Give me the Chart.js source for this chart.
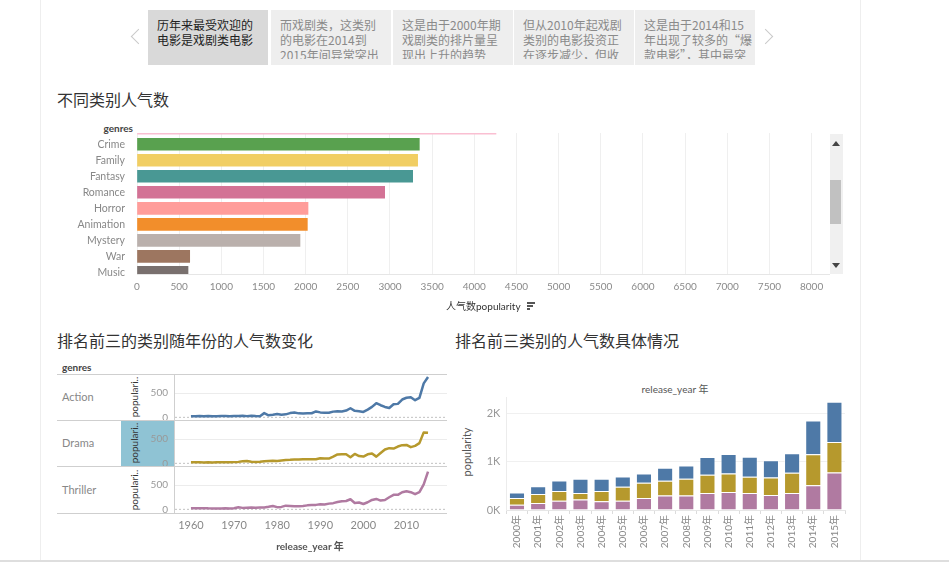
<!DOCTYPE html>
<html><head><meta charset="utf-8">
<script src="https://cdn.jsdelivr.net/npm/chart.js@4.4.1/dist/chart.umd.min.js"></script>
<style>
html,body{margin:0;padding:0;background:#fff;width:949px;height:563px;overflow:hidden;font-family:Lato,"Noto Sans CJK SC",sans-serif;}
.a{position:absolute;}
.sp{position:absolute;top:10px;height:55px;width:120px;background:#eeeeee;box-sizing:border-box;padding:7px 0 0 9px;font-family:"Noto Sans CJK SC",sans-serif;font-size:12px;line-height:15px;color:#8a8a8a;}
.sp .in{height:42px;overflow:hidden;white-space:nowrap;}
.sp.act{background:#d9d9d9;color:#222;}
.ttl{position:absolute;font-family:"Noto Sans CJK SC",sans-serif;font-size:16px;line-height:22px;color:#333;white-space:nowrap;}
.lbl{position:absolute;font-size:11px;color:#888;white-space:nowrap;line-height:14px;}
.hdr{position:absolute;font-size:10px;font-weight:bold;color:#444;white-space:nowrap;line-height:12px;}
.rot{position:absolute;transform:rotate(-90deg);transform-origin:center center;white-space:nowrap;text-align:center;}
.hl{position:absolute;height:1px;background:#cfcfcf;}
canvas{position:absolute;}
</style></head><body>

<!-- page frame -->
<div class="a" style="left:40px;top:0;width:1px;height:561px;background:#eeeeee"></div>
<div class="a" style="left:860px;top:0;width:1px;height:561px;background:#eeeeee"></div>
<div class="a" style="left:0;top:560px;width:949px;height:2px;background:#dedede"></div>

<!-- story points -->
<div class="a" style="left:133px;top:31px;width:10px;height:10px;border-left:1.5px solid #c9c9c9;border-bottom:1.5px solid #c9c9c9;transform:rotate(45deg)"></div>
<div class="a" style="left:760px;top:31px;width:10px;height:10px;border-right:1.5px solid #c9c9c9;border-top:1.5px solid #c9c9c9;transform:rotate(45deg)"></div>
<div class="sp act" style="left:148px"><div class="in">历年来最受欢迎的<br>电影是戏剧类电影</div></div>
<div class="sp" style="left:271px"><div class="in">而戏剧类，这类别<br>的电影在2014到<br>2015年间异常突出</div></div>
<div class="sp" style="left:393px"><div class="in">这是由于2000年期<br>戏剧类的排片量呈<br>现出上升的趋势</div></div>
<div class="sp" style="left:514px"><div class="in">但从2010年起戏剧<br>类别的电影投资正<br>在逐步减少，但收</div></div>
<div class="sp" style="left:635px"><div class="in">这是由于2014和15<br>年出现了较多的“爆<br>款电影”，其中最突</div></div>

<!-- section titles -->
<div class="ttl" style="left:57px;top:88px">不同类别人气数</div>
<div class="ttl" style="left:57px;top:329px">排名前三的类别随年份的人气数变化</div>
<div class="ttl" style="left:455px;top:329px">排名前三类别的人气数具体情况</div>

<!-- top bar chart -->
<div class="hdr" style="left:90px;width:43px;text-align:right;top:122px">genres</div>
<canvas id="c1" width="773" height="187" style="left:57px;top:133px"></canvas>
<div class="a" style="left:830px;top:134px;width:13px;height:140px;background:#f0f0f0"></div>
<div class="a" style="left:830px;top:180px;width:11px;height:44px;background:#c1c1c1"></div>
<div class="a" style="left:832px;top:141px;width:0;height:0;border-left:4px solid transparent;border-right:4px solid transparent;border-bottom:5px solid #444"></div>
<div class="a" style="left:832px;top:263px;width:0;height:0;border-left:4px solid transparent;border-right:4px solid transparent;border-top:5px solid #444"></div>
<div class="a" style="left:446px;top:299px;font-size:10px;color:#333;white-space:nowrap;line-height:14px">人气数popularity<span style="display:inline-block;position:relative;width:9px;height:9px;margin-left:6px;vertical-align:-1px"><span class="a" style="left:0;top:0;width:8px;height:1.5px;background:#555"></span><span class="a" style="left:0;top:3px;width:6px;height:1.5px;background:#555"></span><span class="a" style="left:0;top:6px;width:3px;height:1.5px;background:#555"></span></span></div>

<!-- small multiples -->
<div class="hdr" style="left:62px;top:361px">genres</div>
<div class="a" style="left:121px;top:420px;width:54px;height:47px;background:#8fc3d4"></div>
<div class="hl" style="left:57px;top:374px;width:390px"></div>
<div class="hl" style="left:57px;top:420px;width:390px"></div>
<div class="hl" style="left:57px;top:466px;width:390px"></div>
<div class="hl" style="left:57px;top:513px;width:390px"></div>
<div class="a" style="left:174px;top:374px;width:1px;height:140px;background:#cfcfcf"></div>
<div class="lbl" style="left:62px;top:390px">Action</div>
<div class="lbl" style="left:62px;top:436px">Drama</div>
<div class="lbl" style="left:62px;top:483px">Thriller</div>
<div class="rot" style="left:110px;top:391px;width:48px;height:12px;font-size:10px;line-height:12px;color:#333">populari..</div>
<div class="rot" style="left:110px;top:437px;width:48px;height:12px;font-size:10px;line-height:12px;color:#333">populari..</div>
<div class="rot" style="left:110px;top:484px;width:48px;height:12px;font-size:10px;line-height:12px;color:#333">populari..</div>
<canvas id="r1" width="307" height="46" style="left:140px;top:374px"></canvas>
<canvas id="r2" width="307" height="46" style="left:140px;top:420px"></canvas>
<canvas id="r3" width="307" height="87" style="left:140px;top:466px"></canvas>
<div class="a" style="left:250px;width:120px;text-align:center;top:540px;font-size:10px;font-weight:bold;color:#555;line-height:12px">release_year 年</div>

<!-- stacked bars -->
<div class="a" style="left:615px;width:120px;text-align:center;top:383px;font-size:10px;color:#555;line-height:12px">release_year 年</div>
<div class="rot" style="left:437px;top:446px;width:60px;height:12px;font-size:11px;line-height:12px;color:#555">popularity</div>
<canvas id="c3" width="400" height="170" style="left:455px;top:380px"></canvas>

<script>
// ---------- data ----------
const genres = ['Adventure','Crime','Family','Fantasy','Romance','Horror','Animation','Mystery','War','Music'];
const genrePopularity = [4257, 3348, 3328, 3269, 2937, 2028, 2020, 1933, 625, 605];
const genreColors = ['#fabfd2','#59a14f','#f1ce63','#499894','#d37295','#ff9d9a','#f28e2b','#bab0ac','#9d7660','#79706e'];
const popularityTicks = [0,500,1000,1500,2000,2500,3000,3500,4000,4500,5000,5500,6000,6500,7000,7500,8000];

const lineYears = [1960,1961,1962,1963,1964,1965,1966,1967,1968,1969,1970,1971,1972,1973,1974,1975,1976,1977,1978,1979,1980,1981,1982,1983,1984,1985,1986,1987,1988,1989,1990,1991,1992,1993,1994,1995,1996,1997,1998,1999,2000,2001,2002,2003,2004,2005,2006,2007,2008,2009,2010,2011,2012,2013,2014,2015];
const actionLine = [22,25,27,24,26,25,23,26,28,24,30,27,32,25,34,27,22,87,42,52,68,55,62,88,100,82,80,82,84,122,102,96,94,118,128,122,140,188,134,126,111,160,215,292,250,215,194,271,278,368,404,416,354,403,701,833];
const dramaLine = [21,20,23,19,22,18,21,24,22,20,25,30,42,49,32,28,35,45,49,52,50,60,69,72,78,80,83,85,82,84,104,100,98,139,185,190,186,125,194,150,139,187,202,139,215,285,313,305,347,375,381,334,361,417,639,632];
const thrillerLine = [21,24,22,25,20,18,19,17,20,18,22,42,30,35,38,32,36,40,52,69,45,50,76,70,64,66,68,82,88,92,104,98,118,128,150,167,172,208,132,140,111,146,194,215,181,194,250,299,299,354,375,354,313,354,514,778];
const yearTicks = [1960,1970,1980,1990,2000,2010];
const rowTicks = [0,500];

const barYears = ['2000年','2001年','2002年','2003年','2004年','2005年','2006年','2007年','2008年','2009年','2010年','2011年','2012年','2013年','2014年','2015年'];
const thrillerBar = [111,146,194,215,181,194,250,299,299,354,375,354,313,354,514,778];
const dramaBar = [139,187,202,139,215,285,313,305,347,375,381,334,361,417,639,632];
const actionBar = [111,160,215,292,250,215,194,271,278,368,404,416,354,403,701,833];
const stackTicks = [0,1000,2000];

// ---------- charts ----------
const base = {animation:false, responsive:false, maintainAspectRatio:false, events:[],
  plugins:{legend:{display:false}, tooltip:{enabled:false}}};
Chart.defaults.font.family = 'Lato, "Noto Sans CJK SC", sans-serif';

new Chart(document.getElementById('c1'), {
  type:'bar',
  data:{datasets:[{data: genres.map((g,i)=>({x:genrePopularity[i], y:i})), backgroundColor: genreColors, barThickness:12, clip:0, borderWidth:0}]},
  options:Object.assign({}, base, {
    indexAxis:'y', layout:{padding:0},
    scales:{
      x:{type:'linear', min:0, max:8218, bounds:'data',
        afterBuildTicks:s=>{s.ticks = popularityTicks.map(v=>({value:v}));},
        ticks:{color:'#8a8a8a', font:{size:10}, padding:7, maxRotation:0, autoSkip:false, callback:v=>String(v)},
        grid:{color:'#efefef', drawTicks:false}, border:{display:true, color:'#e6e6e6'},
        afterFit:s=>{s.height=46; s.paddingLeft=0; s.paddingRight=0;}},
      y:{type:'linear', reverse:true, min:0.3, max:9.1, bounds:'data', offset:false,
        afterBuildTicks:s=>{s.ticks = genres.map((g,i)=>({value:i})).filter(t=>t.value>=1);},
        ticks:{color:'#888', font:{size:10.5}, padding:4, autoSkip:false, callback:v=>genres[v]},
        grid:{display:false, offset:false}, border:{display:false},
        afterFit:s=>{s.width=80; s.paddingTop=0; s.paddingBottom=0;}}
    }})
});

const xMin = 1956.3, xMax = 2019.4;
function rowChart(id, values, color, showX){
  new Chart(document.getElementById(id), {
    type:'line',
    data:{datasets:[
      {data: lineYears.map((y,i)=>({x:y, y:values[i]})), borderColor:color, borderWidth:2.5, pointRadius:0, tension:0, borderJoinStyle:'round'},
      {data:[{x:xMin,y:0},{x:xMax,y:0}], borderColor:'#c2c2c2', borderWidth:1, borderDash:[2,2], pointRadius:0}
    ]},
    options:Object.assign({}, base, {
      layout:{padding:0},
      scales:{
        x:{type:'linear', min:xMin, max:xMax, bounds:'data', display:showX,
          afterBuildTicks:s=>{s.ticks = yearTicks.map(v=>({value:v}));},
          ticks:{color:'#888', font:{size:11}, padding:7, maxRotation:0, callback:v=>String(v)},
          grid:{display:false, drawTicks:false}, border:{display:false},
          afterFit:s=>{ if(showX){ s.height=41; } s.paddingLeft=0; s.paddingRight=0;}},
        y:{type:'linear', min:-55, max:895, bounds:'data',
          afterBuildTicks:s=>{s.ticks = rowTicks.map(v=>({value:v}));},
          ticks:{color:'#999', font:{size:10}, padding:7, callback:v=>String(v)},
          grid:{color:c=> (c.tick && c.tick.value===0) ? 'rgba(0,0,0,0)' : '#ececec', drawTicks:false}, border:{display:false},
          afterFit:s=>{s.width=35; s.paddingTop=0; s.paddingBottom=0;}}
      }})
  });
}
rowChart('r1', actionLine, '#4e79a7', false);
rowChart('r2', dramaLine, '#b6992d', false);
rowChart('r3', thrillerLine, '#b07aa1', true);

new Chart(document.getElementById('c3'), {
  type:'bar',
  data:{labels: barYears, datasets:[
    {label:'Thriller', data:thrillerBar, backgroundColor:'#b07aa1'},
    {label:'Drama', data:dramaBar, backgroundColor:'#b6992d'},
    {label:'Action', data:actionBar, backgroundColor:'#4e79a7'}
  ]},
  options:Object.assign({}, base, {
    datasets:{bar:{categoryPercentage:1, barPercentage:0.76, borderWidth:1, borderColor:'rgba(255,255,255,0.45)'}},
    layout:{padding:{top:17, right:10, left:0, bottom:0}},
    scales:{
      x:{stacked:true,
        ticks:{color:'#888', font:{size:10}, minRotation:90, maxRotation:90, padding:1, autoSkip:false},
        grid:{offset:true, drawOnChartArea:false, color:'#dcdcdc', tickLength:4}, border:{color:'#e6e6e6'},
        afterFit:s=>{s.height=40; s.paddingLeft=0; s.paddingRight=0;}},
      y:{stacked:true, min:0, max:2340, bounds:'data',
        afterBuildTicks:s=>{s.ticks = stackTicks.map(v=>({value:v}));},
        ticks:{color:'#999', font:{size:11}, padding:6, callback:v=>(v/1000)+'K'},
        grid:{color:'#f0f0f0', drawTicks:false}, border:{color:'#ececec'},
        afterFit:s=>{s.width=51.4; s.paddingTop=0; s.paddingBottom=0;}}
    }})
});
</script>
</body></html>
